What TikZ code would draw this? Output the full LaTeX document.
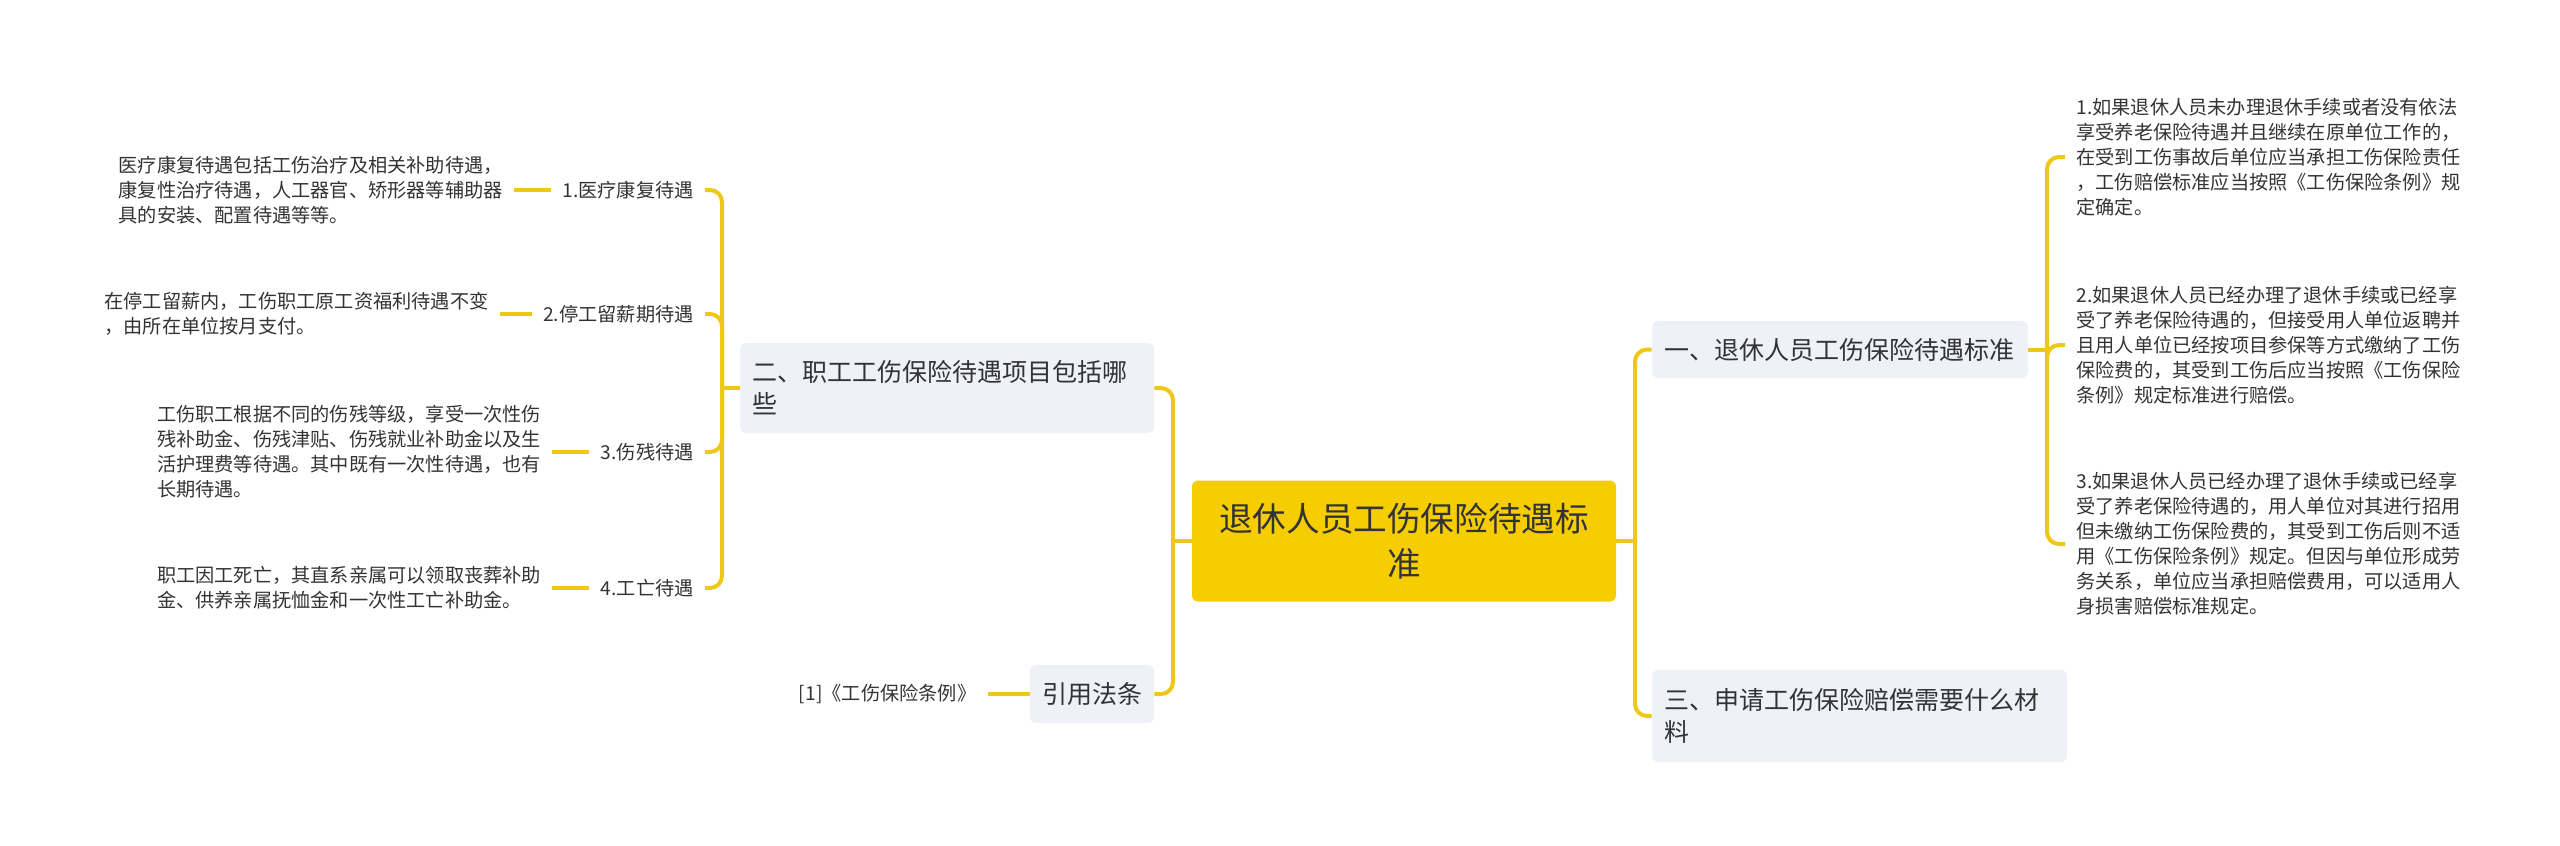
\documentclass[tikz,border=0pt]{standalone}
\usepackage{fontspec}
\setmainfont{Noto Sans CJK SC}
\usetikzlibrary{positioning}
\definecolor{linkyellow}{RGB}{239,199,22}
\definecolor{rootyellow}{RGB}{245,205,0}
\definecolor{boxgray}{RGB}{238,241,245}
\definecolor{inkgray}{RGB}{51,51,51}
\tikzset{
  link/.style={draw=linkyellow, line width=2pt, rounded corners=6pt},
  rootbox/.style={fill=rootyellow, rounded corners=3pt, text=inkgray, align=center,
    font=\fontsize{16.8pt}{22.5pt}\selectfont, minimum width=212pt, minimum height=60.5pt, inner sep=0pt},
  secbox/.style={fill=boxgray, rounded corners=3pt, text=inkgray, align=left,
    font=\fontsize{12.5pt}{16pt}\selectfont, inner xsep=6pt, inner ysep=0pt},
  leaf/.style={text=inkgray, align=left, font=\fontsize{9.6pt}{12.5pt}\selectfont,
    inner xsep=5.5pt, inner ysep=2pt},
}
\begin{document}
\begin{tikzpicture}[x=0.5pt,y=-0.5pt]
  \useasboundingbox (0,0) rectangle (2560,846);
  % centre
  \node[rootbox] (root) at (1404,541) {退休人员工伤保险待遇标\\准};
  % branches
  \node[secbox, text width=176pt, minimum height=28.5pt] (sec1) at (1840,349.5) {一、退休人员工伤保险待遇标准};
  \node[secbox, text width=195pt, minimum height=45pt] (sec2) at (947,388) {二、职工工伤保险待遇项目包括哪\\些};
  \node[secbox, text width=195.5pt, minimum height=46pt] (sec3) at (1859.5,716) {三、申请工伤保险赔偿需要什么材\\料};
  \node[secbox, text width=50pt, minimum height=29pt, align=center] (ref) at (1092,694) {引用法条};
  % leaves of sec2
  \node[leaf, anchor=east] (l1) at (705,190) {1.医疗康复待遇};
  \node[leaf, anchor=east] (l2) at (705,314) {2.停工留薪期待遇};
  \node[leaf, anchor=east] (l3) at (705,452) {3.伤残待遇};
  \node[leaf, anchor=east] (l4) at (705,588) {4.工亡待遇};
  \node[leaf, left=18.5pt of l1] (d1) {医疗康复待遇包括工伤治疗及相关补助待遇，\\康复性治疗待遇，人工器官、矫形器等辅助器\\具的安装、配置待遇等等。};
  \node[leaf, left=16pt of l2] (d2) {在停工留薪内，工伤职工原工资福利待遇不变\\，由所在单位按月支付。};
  \node[leaf, left=18.5pt of l3] (d3) {工伤职工根据不同的伤残等级，享受一次性伤\\残补助金、伤残津贴、伤残就业补助金以及生\\活护理费等待遇。其中既有一次性待遇，也有\\长期待遇。};
  \node[leaf, left=18.5pt of l4] (d4) {职工因工死亡，其直系亲属可以领取丧葬补助\\金、供养亲属抚恤金和一次性工亡补助金。};
  \node[leaf, left=21pt of ref] (refd) {[1]《工伤保险条例》};
  % leaves of sec1
  \node[leaf, anchor=west] (r1) at (2065,157) {1.如果退休人员未办理退休手续或者没有依法\\享受养老保险待遇并且继续在原单位工作的，\\在受到工伤事故后单位应当承担工伤保险责任\\，工伤赔偿标准应当按照《工伤保险条例》规\\定确定。};
  \node[leaf, anchor=west] (r2) at (2065,345) {2.如果退休人员已经办理了退休手续或已经享\\受了养老保险待遇的，但接受用人单位返聘并\\且用人单位已经按项目参保等方式缴纳了工伤\\保险费的，其受到工伤后应当按照《工伤保险\\条例》规定标准进行赔偿。};
  \node[leaf, anchor=west] (r3) at (2065,544) {3.如果退休人员已经办理了退休手续或已经享\\受了养老保险待遇的，用人单位对其进行招用\\但未缴纳工伤保险费的，其受到工伤后则不适\\用《工伤保险条例》规定。但因与单位形成劳\\务关系，单位应当承担赔偿费用，可以适用人\\身损害赔偿标准规定。};
  % bus points
  \coordinate (jL) at (1173,541);
  \coordinate (jR) at (1635,541);
  \coordinate (jA) at (722,388);
  \coordinate (jB) at (2047,349.5);
  % connectors
  \draw[link] (root.west) -- (jL);
  \draw[link] (sec2.east) -| (jL);
  \draw[link] (ref.east) -| (jL);
  \draw[link] (root.east) -- (jR);
  \draw[link] (sec1.west) -| (jR);
  \draw[link] (sec3.west) -| (jR);
  \draw[link] (sec2.west) -- (jA);
  \foreach \n in {l1,l2,l3,l4} \draw[link] (\n.east) -| (jA);
  \draw[link] (sec1.east) -- (jB);
  \foreach \n in {r1,r2,r3} \draw[link] (\n.west) -| (jB);
  \foreach \a/\b in {d1/l1,d2/l2,d3/l3,d4/l4,refd/ref} \draw[link] (\a.east) -- (\b.west);
\end{tikzpicture}
\end{document}
